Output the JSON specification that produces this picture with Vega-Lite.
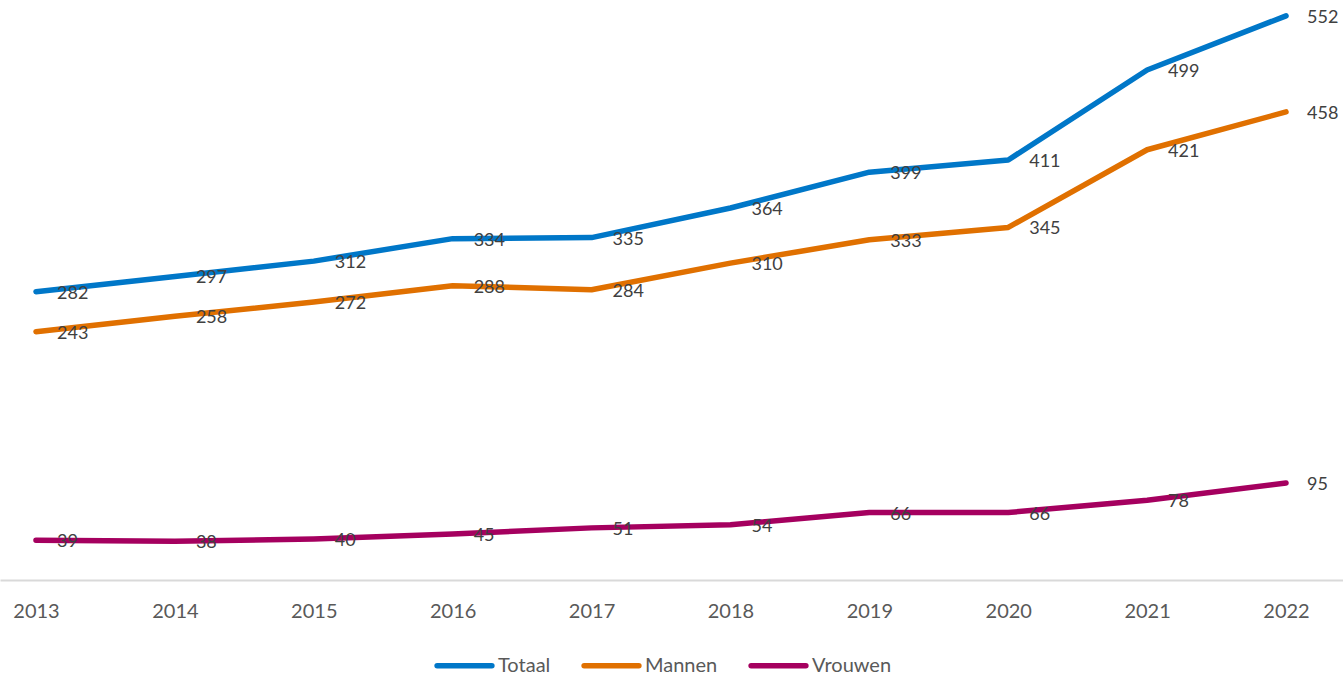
{
  "$schema": "https://vega.github.io/schema/vega-lite/v6.json",
  "width": 1343,
  "height": 580,
  "autosize": {"type": "none"},
  "padding": {"left": 0, "top": 0, "right": 0, "bottom": 95},
  "config": {"view": {"stroke": null}, "font": "Lato"},
  "data": {
    "values": [
      {"jaar": 2013, "reeks": "Totaal", "waarde": 282},
      {"jaar": 2014, "reeks": "Totaal", "waarde": 297},
      {"jaar": 2015, "reeks": "Totaal", "waarde": 312},
      {"jaar": 2016, "reeks": "Totaal", "waarde": 334},
      {"jaar": 2017, "reeks": "Totaal", "waarde": 335},
      {"jaar": 2018, "reeks": "Totaal", "waarde": 364},
      {"jaar": 2019, "reeks": "Totaal", "waarde": 399},
      {"jaar": 2020, "reeks": "Totaal", "waarde": 411},
      {"jaar": 2021, "reeks": "Totaal", "waarde": 499},
      {"jaar": 2022, "reeks": "Totaal", "waarde": 552},
      {"jaar": 2013, "reeks": "Mannen", "waarde": 243},
      {"jaar": 2014, "reeks": "Mannen", "waarde": 258},
      {"jaar": 2015, "reeks": "Mannen", "waarde": 272},
      {"jaar": 2016, "reeks": "Mannen", "waarde": 288},
      {"jaar": 2017, "reeks": "Mannen", "waarde": 284},
      {"jaar": 2018, "reeks": "Mannen", "waarde": 310},
      {"jaar": 2019, "reeks": "Mannen", "waarde": 333},
      {"jaar": 2020, "reeks": "Mannen", "waarde": 345},
      {"jaar": 2021, "reeks": "Mannen", "waarde": 421},
      {"jaar": 2022, "reeks": "Mannen", "waarde": 458},
      {"jaar": 2013, "reeks": "Vrouwen", "waarde": 39},
      {"jaar": 2014, "reeks": "Vrouwen", "waarde": 38},
      {"jaar": 2015, "reeks": "Vrouwen", "waarde": 40},
      {"jaar": 2016, "reeks": "Vrouwen", "waarde": 45},
      {"jaar": 2017, "reeks": "Vrouwen", "waarde": 51},
      {"jaar": 2018, "reeks": "Vrouwen", "waarde": 54},
      {"jaar": 2019, "reeks": "Vrouwen", "waarde": 66},
      {"jaar": 2020, "reeks": "Vrouwen", "waarde": 66},
      {"jaar": 2021, "reeks": "Vrouwen", "waarde": 78},
      {"jaar": 2022, "reeks": "Vrouwen", "waarde": 95}
    ]
  },
  "encoding": {
    "x": {
      "field": "jaar",
      "type": "quantitative",
      "scale": {"domain": [2012.7408, 2022.4103], "nice": false, "zero": false},
      "axis": {
        "values": [2013, 2014, 2015, 2016, 2017, 2018, 2019, 2020, 2021, 2022],
        "format": "d",
        "grid": false,
        "ticks": false,
        "domainColor": "#D9D9D9",
        "domainWidth": 2,
        "labelColor": "#595959",
        "labelFontSize": 20,
        "labelPadding": 21,
        "title": null
      }
    },
    "y": {
      "field": "waarde",
      "type": "quantitative",
      "scale": {"domain": [0, 567.5], "nice": false},
      "axis": null
    }
  },
  "layer": [
    {
      "mark": {"type": "line", "strokeWidth": 5.5, "strokeCap": "round", "strokeJoin": "round"},
      "encoding": {
        "color": {
          "field": "reeks",
          "type": "nominal",
          "sort": ["Totaal", "Mannen", "Vrouwen"],
          "scale": {"domain": ["Totaal", "Mannen", "Vrouwen"], "range": ["#0077C8", "#E07000", "#A5005F"]},
          "legend": {
            "orient": "none",
            "legendX": 434,
            "legendY": 635,
            "direction": "horizontal",
            "title": null,
            "symbolType": "stroke",
            "symbolSize": 3000,
            "symbolStrokeWidth": 5.5,
            "labelFontSize": 20,
            "labelColor": "#595959",
            "labelOffset": 3,
            "columnPadding": 22,
            "encode": {"symbols": {"update": {"strokeCap": {"value": "round"}}}}
          }
        }
      }
    },
    {
      "mark": {"type": "text", "align": "left", "baseline": "middle", "dx": 21, "dy": 2, "fontSize": 18, "color": "#404040"},
      "encoding": {
        "text": {"field": "waarde", "type": "quantitative"},
        "detail": {"field": "reeks"}
      }
    }
  ]
}
